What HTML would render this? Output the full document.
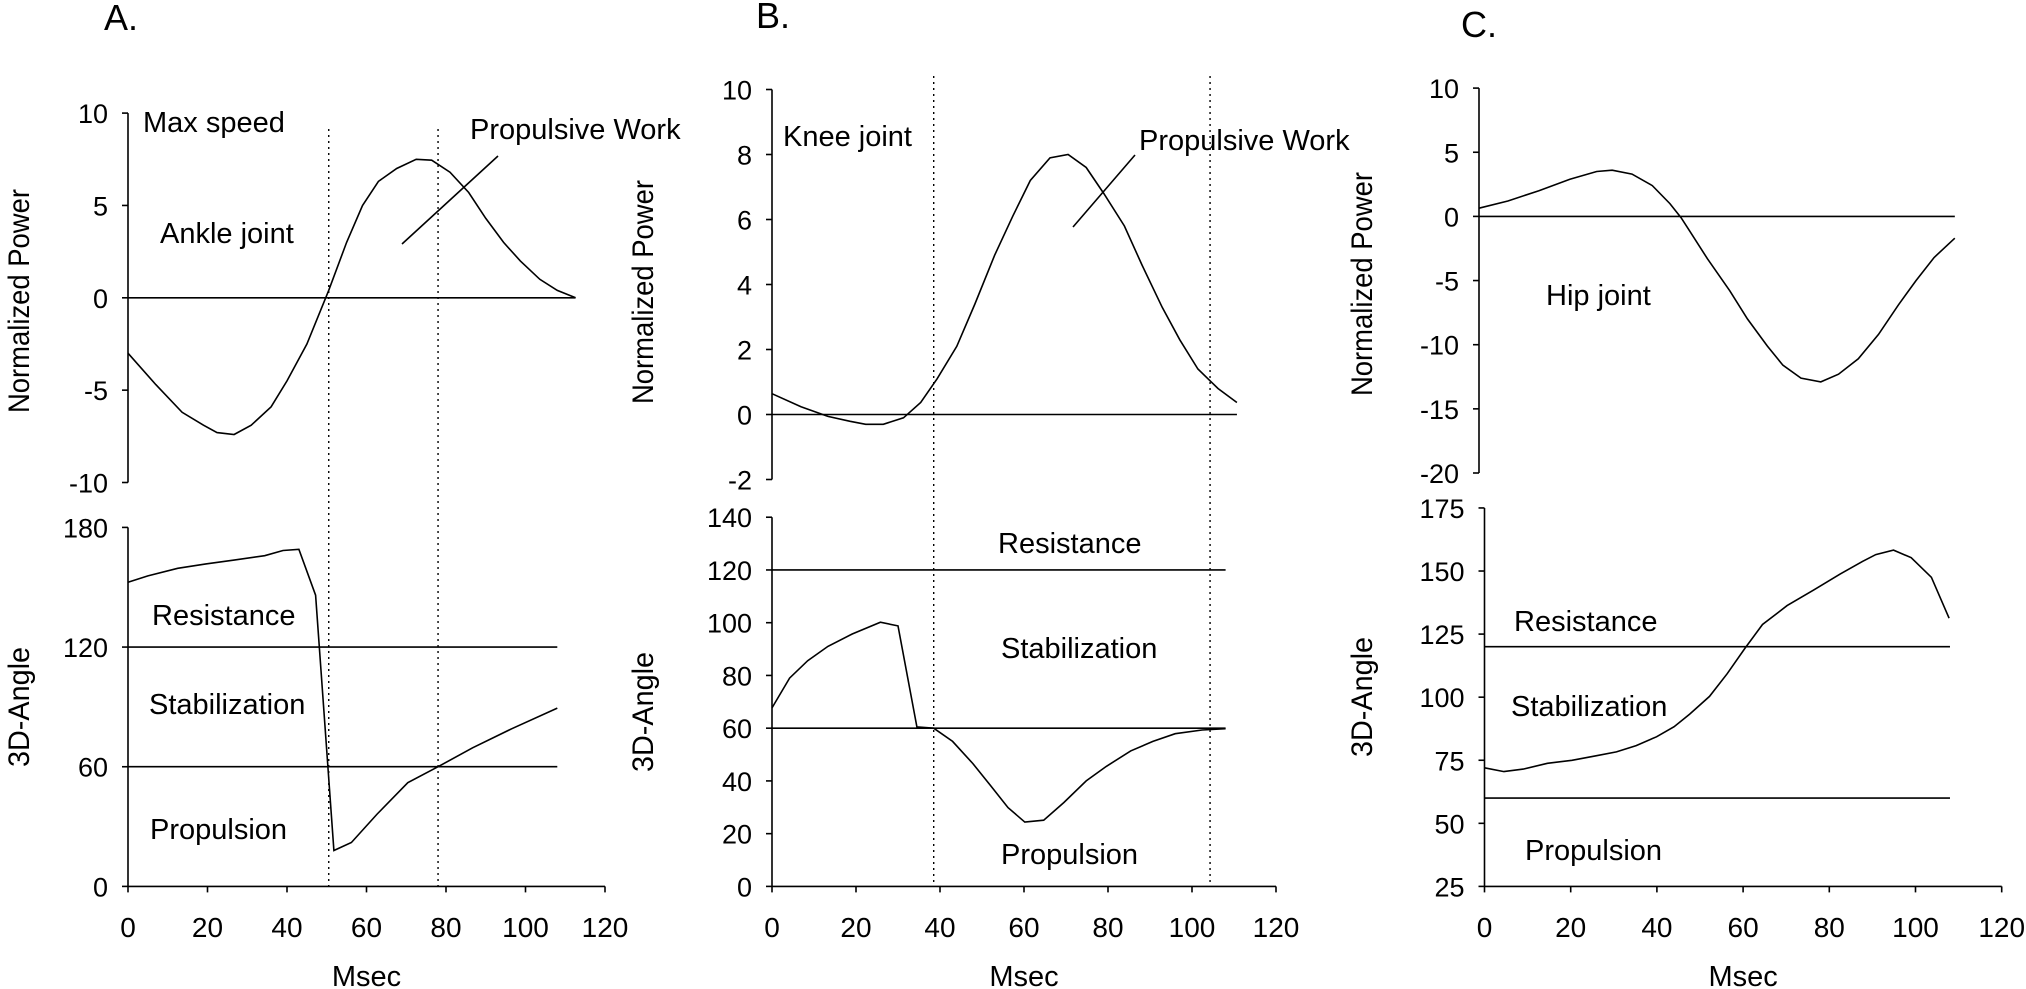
<!DOCTYPE html>
<html><head><meta charset="utf-8">
<style>
html,body{margin:0;padding:0;background:#fff;}
svg{display:block;font-family:"Liberation Sans",Arial,sans-serif;}
</style></head>
<body>
<svg id="fig" width="2026" height="989" viewBox="0 0 2026 989" xmlns="http://www.w3.org/2000/svg"></svg>
<script>
// ---- Panel A (ankle) ----
const aPowX = [0,7,13.6,19,22.4,26.7,31,36,40,45,50.5,55,59,63,67.6,72.5,76.4,81,85.7,90,94.5,98.7,103.6,108,112.6];
const aPowY = [-3.0,-4.7,-6.2,-6.9,-7.3,-7.4,-6.9,-5.9,-4.5,-2.5,0.4,3.0,5.0,6.3,7.0,7.5,7.45,6.8,5.7,4.3,3.0,2.0,1.0,0.4,0];
const aAngX = [0,5,12.5,19.6,26.7,34.4,39,43,47.2,51.8,56.2,62.7,70.4,78,86.7,96.5,108];
const aAngY = [152.5,155.7,159.5,161.7,163.6,165.8,168.4,169,146,18,22,36.3,52,60,69.5,79,89.4];
const aPowTicks = [10,5,0,-5,-10];
const aAngTicks = [180,120,60,0];
// ---- Panel B (knee) ----
const bPowX = [0,6.9,13.3,18.6,22.3,26.5,31.3,35.4,39.3,44,48.3,53,57.3,61.5,66.2,70.5,74.8,79,83.9,88.1,92.9,97.1,101.4,106.2,110.7];
const bPowY = [0.64,0.24,-0.06,-0.21,-0.3,-0.3,-0.1,0.37,1.1,2.1,3.4,4.9,6.1,7.2,7.9,8.0,7.6,6.8,5.8,4.6,3.3,2.3,1.4,0.8,0.37];
const bAngX = [0,4.2,8.5,13.3,19.1,25.8,30,34.5,38.5,43,47.8,52,56.2,60.2,64.7,69.5,74.8,79.6,85.4,90.7,96,102.4,108];
const bAngY = [67.7,79,85.6,91,95.7,100.2,98.8,60.5,60,55,46.6,38.3,29.9,24.4,25.1,31.8,40,45.5,51.4,55,57.9,59.3,59.8];
const bPowTicks = [10,8,6,4,2,0,-2];
const bAngTicks = [140,120,100,80,60,40,20,0];
// ---- Panel C (hip) ----
const cPowX = [0,6.7,13.9,21.1,27.3,30.9,35.5,40.2,44.3,46.9,49,53,58.2,62.3,66.9,70.5,74.7,79.3,83.4,88,92.7,97.3,101.4,105.6,110.4];
const cPowY = [0.64,1.2,2.0,2.9,3.5,3.6,3.3,2.4,1.0,-0.1,-1.2,-3.3,-5.8,-8.0,-10.1,-11.6,-12.6,-12.9,-12.3,-11.1,-9.2,-6.9,-5.0,-3.2,-1.7];
const cAngX = [0,4.5,9,14.6,20.3,26,30.6,35.2,39.9,44,47.6,52.2,56.3,60.4,64.5,70.2,76.4,82.5,87.7,90.8,94.9,99,103.7,107.8];
const cAngY = [72,70.5,71.5,73.8,75,76.8,78.3,80.8,84.3,88.3,93.3,100.3,109.3,119.3,128.8,136.3,142.5,148.8,153.8,156.5,158.3,155.3,147.5,131.3];
const cPowTicks = [10,5,0,-5,-10,-15,-20];
const cAngTicks = [175,150,125,100,75,50,25];
const xTicks = [0,20,40,60,80,100,120];
const zoneLevels = [120,60];

const NS="http://www.w3.org/2000/svg";
const svg=document.getElementById('fig');
function mk(tag,attrs,parent,txt){const e=document.createElementNS(NS,tag);for(const k in attrs)e.setAttribute(k,attrs[k]);if(txt!==undefined)e.textContent=txt;(parent||svg).appendChild(e);return e;}
function line(g,x1,y1,x2,y2,name,extra){const l=mk('line',Object.assign({x1,y1,x2,y2,stroke:'#000','stroke-width':1.6},extra||{}),g);

return l;}
function text(g,x,y,s,size,name,anchor,extra){const t=mk('text',Object.assign({x,y,'font-size':size,'text-anchor':anchor||'start',fill:'#000'},extra||{}),g,s);

return t;}

function panel(P){
  const g=mk('g',{});
  
  
  const sxT=v=>P.topX0+v*P.pxPerMs, sxB=v=>P.botX0+v*P.pxPerMs;
  const syT=v=>P.topY(v), syB=v=>P.botY(v);
  text(g,P.letterX,P.letterY,P.letter,36,P.id+'-panel-letter');
  line(g,P.topX0,syT(P.powTicks[0]),P.topX0,syT(P.powTicks[P.powTicks.length-1]),P.id+'-power-y-axis');
  P.powTicks.forEach(t=>{line(g,P.topX0-6,syT(t),P.topX0,syT(t),P.id+'-power-tick');
    text(g,P.topX0-20,syT(t)+10,String(t),27,P.id+'-power-tick-label','end');});
  line(g,P.topX0,syT(0),sxT(P.zeroEnd),syT(0),P.id+'-zero-line');
  const bTop=P.angTicks[0], bBot=P.angTicks[P.angTicks.length-1];
  line(g,P.botX0,syB(bTop),P.botX0,syB(bBot),P.id+'-angle-y-axis');
  line(g,P.botX0,syB(bBot),sxB(120),syB(bBot),P.id+'-x-axis');
  P.angTicks.forEach(t=>{line(g,P.botX0-6,syB(t),P.botX0,syB(t),P.id+'-angle-tick');
    text(g,P.botX0-20,syB(t)+10,String(t),27,P.id+'-angle-tick-label','end');});
  xTicks.forEach(t=>{line(g,sxB(t),syB(bBot),sxB(t),syB(bBot)+6,P.id+'-x-tick');
    text(g,sxB(t),937,String(t),28,P.id+'-x-tick-label','middle');});
  zoneLevels.forEach(z=>line(g,P.botX0,syB(z),sxB(108),syB(z),P.id+'-zone-line-'+z));
  P.dotted.forEach(d=>line(g,sxB(d),P.dotTop,sxB(d),syB(bBot),P.id+'-phase-marker',{'stroke-dasharray':'2,4','stroke-width':1.4}));
  const pp=P.powX.map((x,i)=>sxT(x).toFixed(1)+','+syT(P.powY[i]).toFixed(1)).join(' ');
  const p1=mk('polyline',{points:pp,fill:'none',stroke:'#000','stroke-width':1.6},g);
  
  
  const ap=P.angX.map((x,i)=>sxB(x).toFixed(1)+','+syB(P.angY[i]).toFixed(1)).join(' ');
  const p2=mk('polyline',{points:ap,fill:'none',stroke:'#000','stroke-width':1.6},g);
  
  
  text(g,0,0,'Normalized Power',30,P.id+'-power-y-title','middle',{transform:`translate(${P.ytX+10},${P.ytTopY}) rotate(-90)`,textLength:224,lengthAdjust:'spacingAndGlyphs'});
  text(g,0,0,'3D-Angle',30,P.id+'-angle-y-title','middle',{transform:`translate(${P.ytX+10},${P.ytBotY}) rotate(-90)`,textLength:120,lengthAdjust:'spacingAndGlyphs'});
  text(g,sxB(60),986,'Msec',29,P.id+'-x-title','middle');
  P.labels.forEach(l=>text(g,l[0],l[1],l[2],29,P.id+'-'+l[3]));
  if(P.pointer) line(g,...P.pointer,P.id+'-propulsive-work-pointer');
}

panel({id:'ankle',letter:'A.',letterX:104,letterY:30,topX0:128,botX0:128,pxPerMs:3.975,
  topY:v=>297.8-v*18.47, botY:v=>886.4-v*1.9944, zeroEnd:112.6,
  powTicks:aPowTicks,angTicks:aAngTicks,dotted:[50.5,78],dotTop:129,
  powX:aPowX,powY:aPowY,angX:aAngX,angY:aAngY,ytX:19,ytTopY:301,ytBotY:707,
  pointer:[402,244,498,156],
  labels:[[143,132,'Max speed','max-speed-label'],[470,139,'Propulsive Work','propulsive-work-label'],[160,243,'Ankle joint','joint-label'],
    [152,625,'Resistance','resistance-label'],[149,714,'Stabilization','stabilization-label'],[150,839,'Propulsion','propulsion-label']]});

panel({id:'knee',letter:'B.',letterX:756,letterY:28,topX0:772,botX0:772,pxPerMs:4.2,
  topY:v=>414.5-v*32.5, botY:v=>886.4-v*2.637, zeroEnd:110.7,
  powTicks:bPowTicks,angTicks:bAngTicks,dotted:[38.5,104.3],dotTop:76,
  powX:bPowX,powY:bPowY,angX:bAngX,angY:bAngY,ytX:643,ytTopY:292,ytBotY:712,
  pointer:[1073,227,1135,155],
  labels:[[783,146,'Knee joint','joint-label'],[1139,150,'Propulsive Work','propulsive-work-label'],
    [998,553,'Resistance','resistance-label'],[1001,658,'Stabilization','stabilization-label'],[1001,864,'Propulsion','propulsion-label']]});

panel({id:'hip',letter:'C.',letterX:1461,letterY:37,topX0:1479,botX0:1484.5,pxPerMs:4.31,
  topY:v=>216.4-v*12.83, botY:v=>886.4-(v-25)*2.523, zeroEnd:110.4,
  powTicks:cPowTicks,angTicks:cAngTicks,dotted:[],dotTop:0,
  powX:cPowX,powY:cPowY,angX:cAngX,angY:cAngY,ytX:1362,ytTopY:284,ytBotY:697,
  labels:[[1546,305,'Hip joint','joint-label'],
    [1514,631,'Resistance','resistance-label'],[1511,716,'Stabilization','stabilization-label'],[1525,860,'Propulsion','propulsion-label']]});
</script>
</body></html>
